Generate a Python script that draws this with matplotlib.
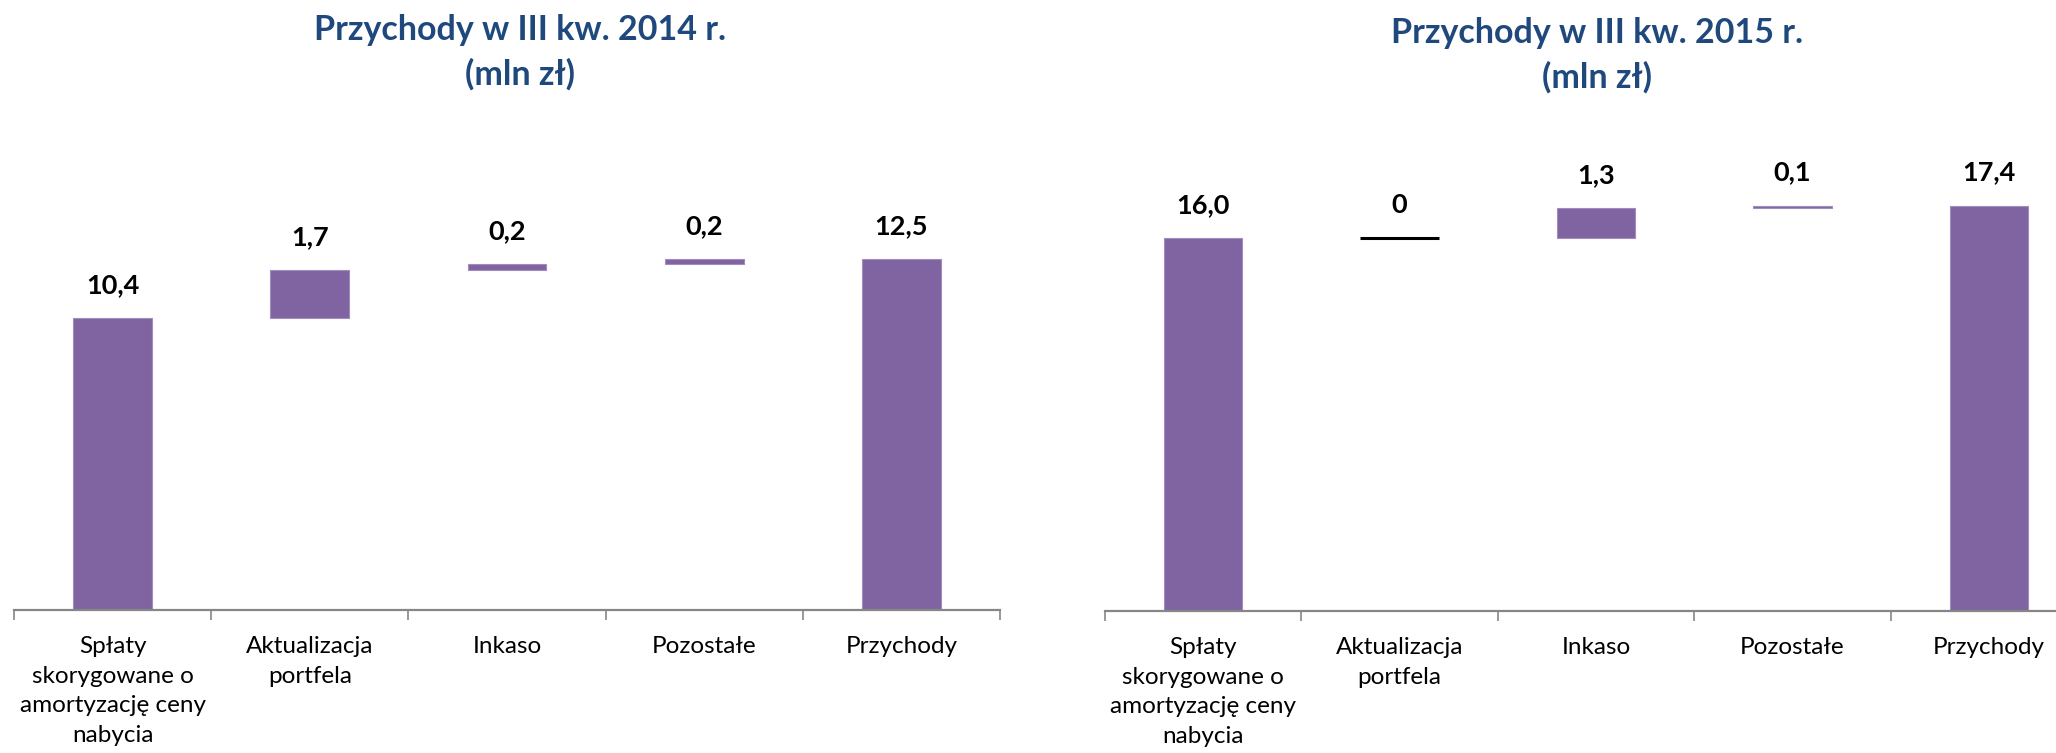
import numpy as np
import matplotlib
matplotlib.use("Agg")
import matplotlib.pyplot as plt

plt.rcParams['font.family'] = ['Lato', 'DejaVu Sans']

categories = ["Spłaty\nskorygowane o\namortyzację ceny\nnabycia",
              "Aktualizacja\nportfela", "Inkaso", "Pozostałe", "Przychody"]

# waterfall steps (mln zł), last item = total
steps_2014 = [10.4, 1.7, 0.2, 0.2]
total_2014 = 12.5
steps_2015 = [16.0, 0.0, 1.3, 0.1]
total_2015 = 17.4

title_2014 = ["Przychody w III kw. 2014 r.", "(mln zł)"]
title_2015 = ["Przychody w III kw. 2015 r.", "(mln zł)"]

PURPLE = "#8064A2"
TITLE_BLUE = "#1F497D"
AXIS_GRAY = "#868686"

W, H = 2056, 753
fig = plt.figure(figsize=(W / 100, H / 100), dpi=100)


def fmt(v):
    if v == 0:
        return "0"
    return f"{v:.1f}".replace(".", ",")


def waterfall(ax, steps, total, ymax):
    vals = list(steps) + [total]
    bottoms = [0.0] + list(np.cumsum(steps)[:-1]) + [0.0]
    x = np.arange(len(vals))
    w = 0.4
    for i, (v, b) in enumerate(zip(vals, bottoms)):
        if v == 0:
            ax.hlines(b, i - w / 2, i + w / 2, color="black", lw=2.2)
        else:
            ax.bar(i, v, bottom=b, width=w, color=PURPLE, edgecolor="#A08CBE", lw=0.8)
        ax.annotate(fmt(v), (i, b + v), xytext=(0, 18), textcoords="offset points",
                    ha="center", va="baseline", fontsize=19.5, fontweight="bold",
                    color="black")
    ax.set_xlim(-0.5, len(vals) - 0.5)
    ax.set_ylim(0, ymax)
    ax.set_xticks(x)
    ax.set_xticklabels(categories, fontsize=17.5, linespacing=1.5, va="top")
    ax.set_xticks(np.arange(-0.5, len(vals)), minor=True)
    ax.tick_params(axis="x", which="major", length=0, pad=19)
    ax.tick_params(axis="x", which="minor", length=7, width=1.2, color=AXIS_GRAY,
                   direction="out")
    ax.set_yticks([])
    for s in ["left", "right", "top"]:
        ax.spines[s].set_visible(False)
    ax.spines["bottom"].set_color(AXIS_GRAY)
    ax.spines["bottom"].set_linewidth(1.6)
    ax.set_facecolor("none")


axh = 506 / H
ax1 = fig.add_axes([14 / W, 143 / H, 986 / W, axh])
waterfall(ax1, steps_2014, total_2014, 506 / 28.1)

ax2 = fig.add_axes([1105 / W, 142 / H, 982 / W, axh])
waterfall(ax2, steps_2015, total_2015, 506 / 23.3)

# titles
fig.text(520 / W, 1 - 40 / H, title_2014[0], ha="center", va="baseline",
         fontsize=24.5, fontweight="bold", color=TITLE_BLUE)
fig.text(520 / W, 1 - 85 / H, title_2014[1], ha="center", va="baseline",
         fontsize=24.5, fontweight="bold", color=TITLE_BLUE)
fig.text(1597 / W, 1 - 43 / H, title_2015[0], ha="center", va="baseline",
         fontsize=24.5, fontweight="bold", color=TITLE_BLUE)
fig.text(1597 / W, 1 - 88 / H, title_2015[1], ha="center", va="baseline",
         fontsize=24.5, fontweight="bold", color=TITLE_BLUE)

fig.savefig("out.png", dpi=100)
